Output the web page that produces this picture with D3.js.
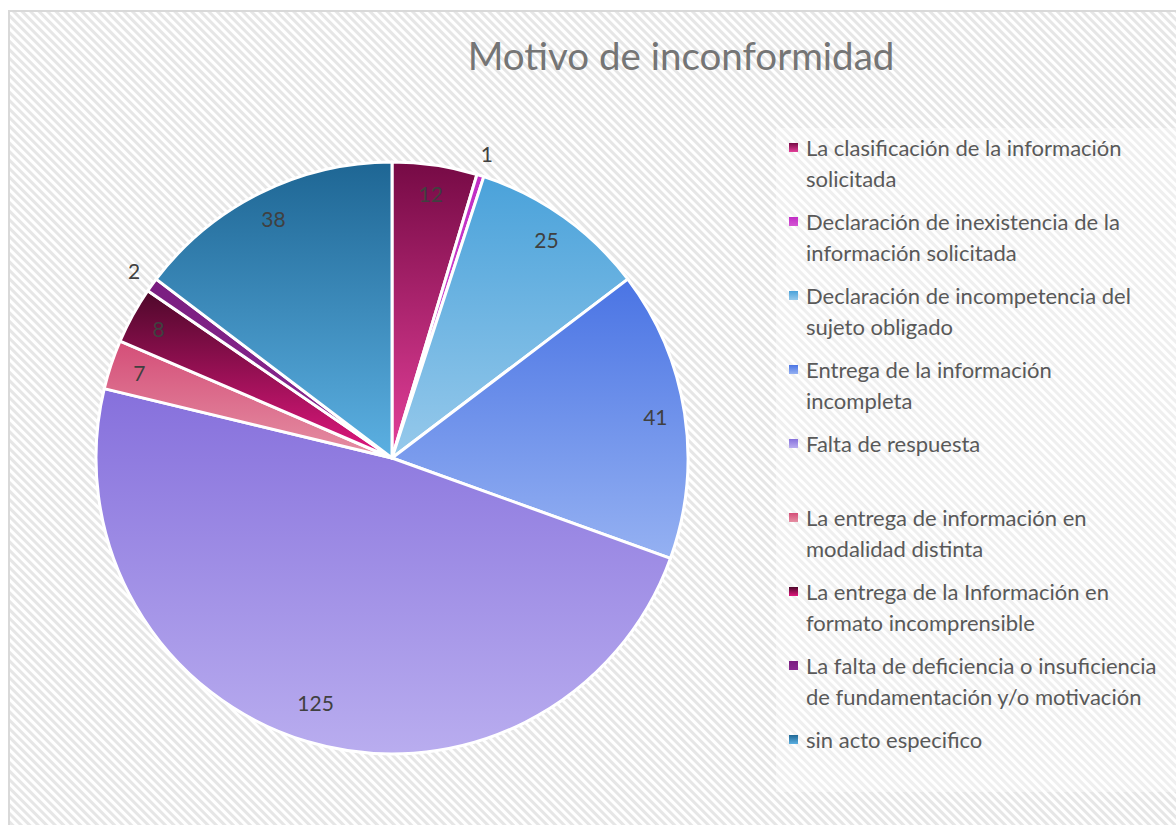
<!DOCTYPE html>
<html>
<head>
<meta charset="utf-8">
<script src="https://cdn.jsdelivr.net/npm/d3@7"></script>
<style>
  body { margin: 0; background: #fff; }
  svg { display: block; }
</style>
</head>
<body>
<div id="chart"></div>
<script>
// Chart data
const categories = [
    "La clasificación de la información solicitada",
    "Declaración de inexistencia de la información solicitada",
    "Declaración de incompetencia del sujeto obligado",
    "Entrega de la información incompleta",
    "Falta de respuesta",
    "La entrega de información en modalidad distinta",
    "La entrega de la Información en formato incomprensible",
    "La falta de deficiencia o insuficiencia de fundamentación y/o motivación",
    "sin acto especifico"
];
const values = [12, 1, 25, 41, 125, 7, 8, 2, 38];

// legend lines as they wrap in the picture
const legendLines = [
    ["La clasificación de la información", "solicitada"],
    ["Declaración de inexistencia de la", "información solicitada"],
    ["Declaración de incompetencia del", "sujeto obligado"],
    ["Entrega de la información", "incompleta"],
    ["Falta de respuesta"],
    ["La entrega de información en", "modalidad distinta"],
    ["La entrega de la Información en", "formato incomprensible"],
    ["La falta de deficiencia o insuficiencia", "de fundamentación y/o motivación"],
    ["sin acto especifico"]
];

// top / bottom colour of each slice gradient
const topColors = ["#760a45", "#c02cc4", "#4aa2da", "#4a74e4", "#8670dc", "#d44e78", "#4e082a", "#7a1e80", "#1e6694"];
const bottomColors = ["#e4409a", "#d456d4", "#96c9eb", "#95b1f2", "#b9adef", "#e58fa3", "#e2187f", "#8a2a92", "#5cb0e2"];

const width = 1176;
const height = 825;
const radius = 296;
const cx = 392, cy = 458;

const svg = d3.select("#chart")
    .append("svg")
    .attr("width", width)
    .attr("height", height);

const defs = svg.append("defs");

// diagonal stripe background
const pattern = defs.append("pattern")
    .attr("id", "stripes")
    .attr("patternUnits", "userSpaceOnUse")
    .attr("width", 6)
    .attr("height", 6)
    .attr("patternTransform", "rotate(-45)");
pattern.append("rect").attr("width", 6).attr("height", 6).attr("fill", "#ffffff");
pattern.append("rect").attr("width", 3).attr("height", 6).attr("fill", "#e6e6e6");

categories.forEach((c, i) => {
    const g = defs.append("linearGradient")
        .attr("id", "grad" + i)
        .attr("x1", 0).attr("y1", 0)
        .attr("x2", 0).attr("y2", 1);
    g.append("stop").attr("offset", "0%").attr("stop-color", topColors[i]);
    g.append("stop").attr("offset", "100%").attr("stop-color", bottomColors[i]);
});

svg.append("rect")
    .attr("x", 0).attr("y", 0)
    .attr("width", width).attr("height", height)
    .attr("fill", "#fff");

svg.append("rect")
    .attr("x", 9).attr("y", 11)
    .attr("width", width).attr("height", height)
    .attr("fill", "url(#stripes)")
    .attr("stroke", "#d9d9d9")
    .attr("stroke-width", 2);

// lighter box behind the legend
svg.append("rect")
    .attr("x", 776).attr("y", 128)
    .attr("width", 400).attr("height", 664)
    .attr("fill", "#fff")
    .attr("opacity", 0.35);

// Title
svg.append("text")
    .attr("x", 681)
    .attr("y", 70)
    .attr("text-anchor", "middle")
    .attr("font-family", "Lato, 'Open Sans', sans-serif")
    .attr("font-size", 38.5)
    .attr("fill", "#757575")
    .text("Motivo de inconformidad");

// Pie
const pie = d3.pie().sort(null).value(d => d);
const arcs = pie(values);

const arc = d3.arc().innerRadius(0).outerRadius(radius);
const labelIn = d3.arc().innerRadius(radius * 0.9).outerRadius(radius * 0.9);
const labelOut = d3.arc().innerRadius(radius + 22).outerRadius(radius + 22);

const pieG = svg.append("g").attr("transform", `translate(${cx},${cy})`);

pieG.selectAll("path")
    .data(arcs)
    .enter()
    .append("path")
    .attr("d", arc)
    .attr("fill", (d, i) => `url(#grad${i})`)
    .attr("stroke", "#fff")
    .attr("stroke-width", 3)
    .attr("stroke-linejoin", "round");

pieG.selectAll("text.lbl")
    .data(arcs)
    .enter()
    .append("text")
    .attr("class", "lbl")
    .attr("transform", d => {
        const p = (d.value <= 2 ? labelOut : labelIn).centroid(d);
        if (d.value > 100) p[1] -= 10;
        return `translate(${p})`;
    })
    .attr("text-anchor", "middle")
    .attr("dy", "0.35em")
    .attr("font-family", "Lato, 'Open Sans', sans-serif")
    .attr("font-size", 21)
    .attr("fill", "#404040")
    .text(d => d.value);

// Legend
const legend = svg.append("g").attr("transform", "translate(790,148)");
const item = legend.selectAll("g")
    .data(legendLines)
    .enter()
    .append("g")
    .attr("transform", (d, i) => `translate(0,${i * 74})`);

item.append("rect")
    .attr("x", -1).attr("y", -5)
    .attr("width", 9).attr("height", 9)
    .attr("fill", (d, i) => `url(#grad${i})`);

item.selectAll("text")
    .data(d => d)
    .enter()
    .append("text")
    .attr("x", 16)
    .attr("y", (d, j) => j * 31)
    .attr("dy", "0.35em")
    .attr("font-family", "Lato, 'Open Sans', sans-serif")
    .attr("font-size", 22)
    .attr("fill", "#595959")
    .text(d => d);
</script>
</body>
</html>
